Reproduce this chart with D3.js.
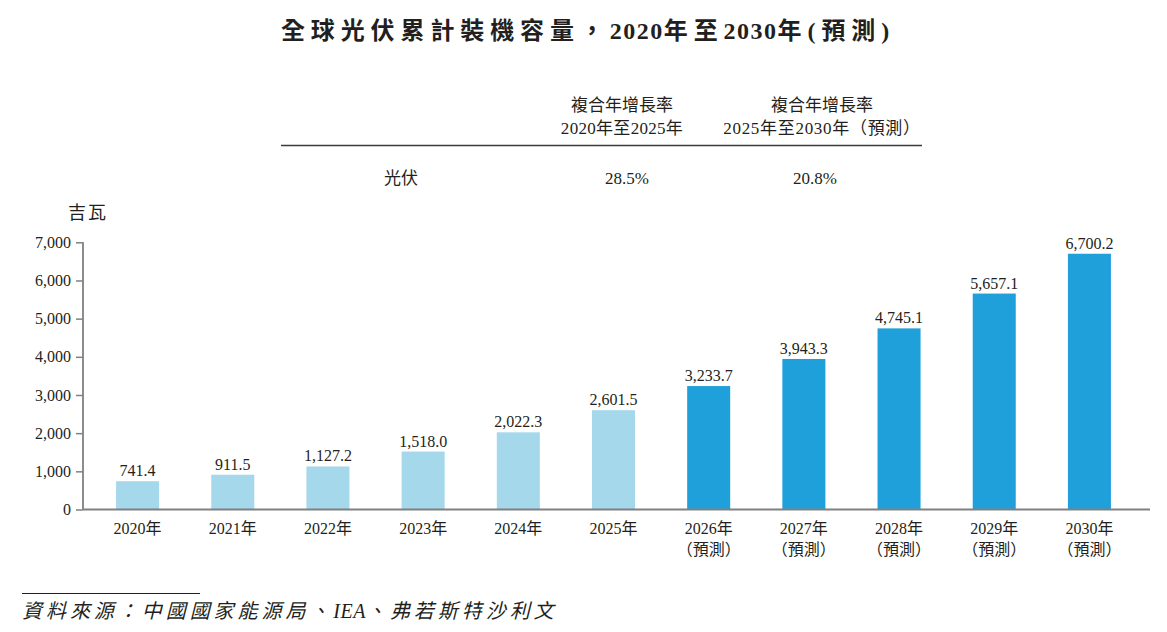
<!DOCTYPE html>
<html><head><meta charset="utf-8">
<script src="https://cdn.jsdelivr.net/npm/d3@7"></script>
<style>
html,body{margin:0;padding:0;background:#fff;}
text{font-family:"Liberation Serif","Noto Sans CJK TC",serif;fill:#231f20;}
</style></head>
<body><svg id="c" width="1167" height="632"></svg>
<script>
const years = ["2020年","2021年","2022年","2023年","2024年","2025年","2026年","2027年","2028年","2029年","2030年"];
const forecast = [false,false,false,false,false,false,true,true,true,true,true];
const values = [741.4,911.5,1127.2,1518.0,2022.3,2601.5,3233.7,3943.3,4745.1,5657.1,6700.2];
const yTicks = [0,1000,2000,3000,4000,5000,6000,7000];
const cagrHeaders = [["複合年增長率","2020年至2025年"],["複合年增長率","2025年至2030年（預測）"]];
const cagrRow = ["光伏","28.5%","20.8%"];
const title = "全球光伏累計裝機容量，2020年至2030年(預測)";
const unit = "吉瓦";
const source = "資料來源：中國國家能源局、IEA、弗若斯特沙利文";

const svg = d3.select("#c");
const axisColor = "#808080";

// split text into latin / cjk runs so spacing can differ
function runs(str){ return str.match(/[A-Za-z0-9.,%]+|[^A-Za-z0-9.,%]+/g); }
const isLatin = s => /^[A-Za-z0-9.,%]+$/.test(s);

// title
const tt = svg.append("text").attr("x",588).attr("y",39).attr("text-anchor","middle")
  .style("font-size","24px").style("font-weight","bold");
runs(title).forEach(r=>{
  tt.append("tspan").style("letter-spacing", isLatin(r)?"1.5px":"5.9px").text(r);
});

// CAGR table
const colX = [622, 822];
cagrHeaders.forEach((h,i)=>{
  svg.append("text").attr("x",colX[i]).attr("y",111).attr("text-anchor","middle").style("font-size","17px").text(h[0]);
  svg.append("text").attr("x",colX[i]).attr("y",134).attr("text-anchor","middle").style("font-size","17px")
    .style("letter-spacing", i===1?"0.7px":"0.3px").text(h[1]);
});
svg.append("line").attr("x1",281).attr("x2",922).attr("y1",145.5).attr("y2",145.5).attr("stroke","#3a3a3a").attr("stroke-width",1.6);
const rowX = [401, 627, 815];
cagrRow.forEach((t,i)=>{
  svg.append("text").attr("x",rowX[i]).attr("y",184).attr("text-anchor","middle").style("font-size","17px").text(t);
});

// unit
svg.append("text").attr("x",68).attr("y",219).style("font-size","18px").style("letter-spacing","2px").text(unit);

// scales
const x = d3.scaleBand().domain(years).range([80,1147]).paddingInner(0.548).paddingOuter(0.379);
const y = d3.scaleLinear().domain([0,7000]).range([509.5,242.3]);

// bars
svg.append("g").selectAll("rect").data(values).join("rect")
  .attr("x",(d,i)=>x(years[i])).attr("width",x.bandwidth())
  .attr("y",d=>y(d)).attr("height",d=>y(0)-y(d))
  .attr("fill",(d,i)=>forecast[i]?"#1fa0db":"#a5d8eb");

// value labels
svg.append("g").selectAll("text").data(values).join("text")
  .attr("x",(d,i)=>x(years[i])+x.bandwidth()/2).attr("y",d=>y(d)-5)
  .attr("text-anchor","middle").style("font-size","16px")
  .text(d=>d3.format(",.1f")(d));

// y axis
const yAxis = d3.axisLeft(y).tickValues(yTicks).tickFormat(d3.format(",")).tickSize(7).tickPadding(5);
const gy = svg.append("g").attr("transform","translate(83,0)").call(yAxis);
gy.select(".domain").attr("stroke",axisColor).attr("stroke-width",1.8).attr("d","M0,242.3V509.5");
gy.selectAll(".tick line").attr("stroke",axisColor).attr("stroke-width",1.5);
gy.selectAll(".tick text").style("font-size","16px").style("font-family","'Liberation Serif',serif").attr("fill","#231f20");

// x axis
const xAxis = d3.axisBottom(x).tickSize(0).tickPadding(0).tickFormat("");
const gx = svg.append("g").attr("transform","translate(0,509.5)").call(xAxis);
gx.select(".domain").attr("stroke",axisColor).attr("stroke-width",1.8).attr("d","M83,0H1150");
gx.selectAll(".tick").each(function(d,i){
  const t = d3.select(this).append("text").attr("text-anchor","middle").style("font-size","16px").attr("fill","#231f20");
  t.append("tspan").attr("x",0).attr("y",24).text(d);
  if(forecast[i]) t.append("tspan").attr("x",0).attr("y",45).text("（預測）");
});

// source
svg.append("line").attr("x1",22).attr("x2",200).attr("y1",593.5).attr("y2",593.5).attr("stroke","#231f20").attr("stroke-width",1.2);
const st = svg.append("text").attr("x",22).attr("y",618).style("font-size","20px").style("font-style","italic");
runs(source).forEach(r=>{
  st.append("tspan").style("letter-spacing", isLatin(r)?"0.5px":"3.95px").text(r);
});
</script></body></html>
